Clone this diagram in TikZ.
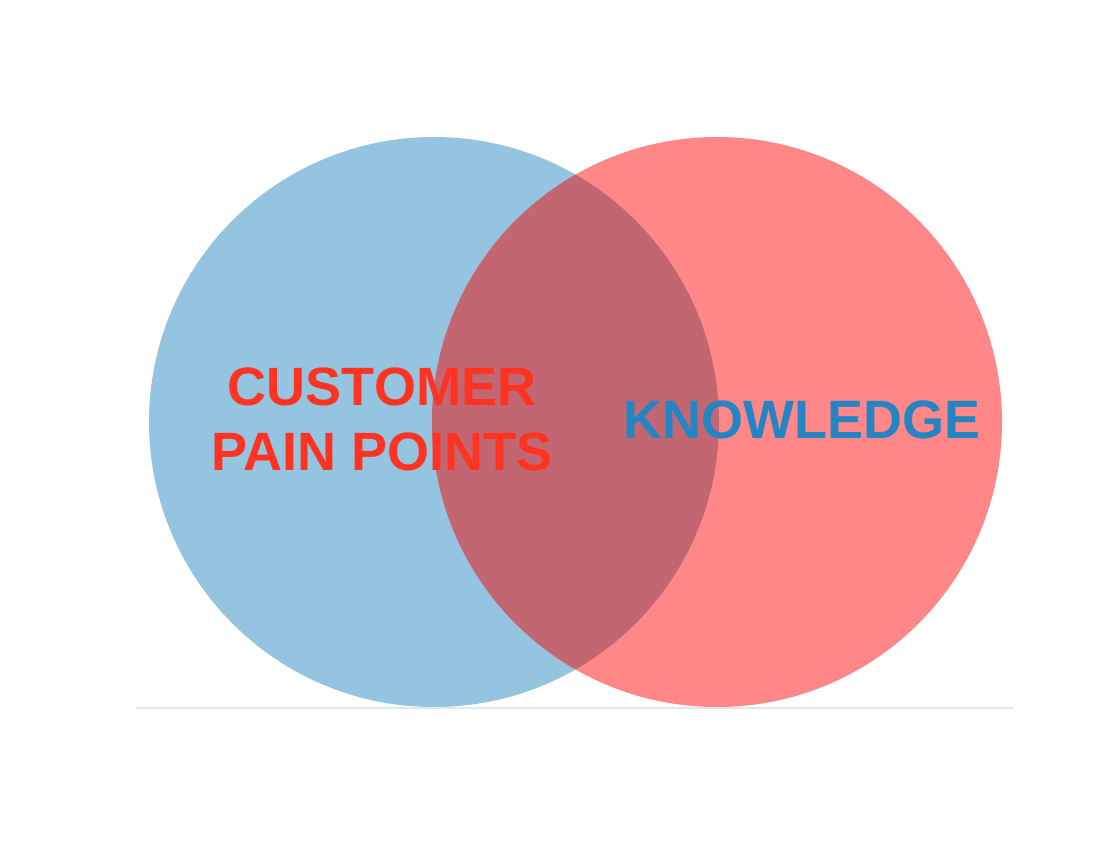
\documentclass[tikz,border=0pt]{standalone}
\usepackage{fontspec}
\setmainfont{Liberation Sans}
\definecolor{cblue}{HTML}{94C4E0}
\definecolor{cred}{HTML}{FF8787}
\definecolor{cover}{HTML}{C26772}
\definecolor{tred}{HTML}{FF3322}
\definecolor{tblue}{HTML}{2585C4}
\definecolor{baseln}{HTML}{DDE9EE}
\begin{document}
\begin{tikzpicture}[x=1pt,y=-1pt,
  lbl/.style={font=\bfseries\fontsize{54}{65}\selectfont, inner sep=0pt, align=center}]
\useasboundingbox[fill=white] (0,0) rectangle (1114,852);
\fill[cblue] (434,422) circle[radius=285];
\fill[cred] (717,422) circle[radius=285];
\begin{scope}
  \clip (434,422) circle[radius=285];
  \fill[cover] (717,422) circle[radius=285];
\end{scope}
\draw[baseln, line width=2pt] (136,708) -- (1013,708);
\node[lbl, text=tred, anchor=base] (cust) at (382,405) {CUSTOMER};
\node[lbl, text=tred, anchor=base] (pain) at (382,470) {PAIN POINTS};
\node[lbl, text=tblue, anchor=base] (know) at (802,438) {KNOWLEDGE};
\end{tikzpicture}
\end{document}
